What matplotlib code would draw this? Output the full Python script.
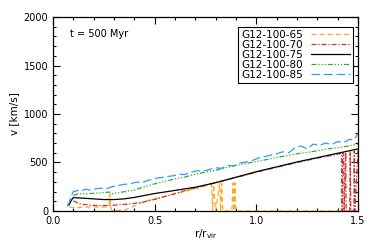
import matplotlib
matplotlib.use("Agg")
import matplotlib.pyplot as plt
from matplotlib.ticker import MultipleLocator

plt.rcParams["font.family"] = "DejaVu Sans"
plt.rcParams["font.size"] = 7

# G12-100-65 (orange, dashed)
r65 = [0.08, 0.10, 0.15, 0.20, 0.25, 0.275, 0.28, 0.285, 0.29, 0.32, 0.35, 0.38, 0.42, 0.46,
       0.50, 0.60, 0.70, 0.78, 0.785, 0.79, 0.80, 0.82, 0.825, 0.83, 0.835, 0.84, 0.86,
       0.88, 0.885, 0.89, 0.895, 0.90, 1.00, 1.20, 1.40, 1.50]
v65 = [40, 35, 38, 42, 40, 45, 175, 30, 5, 5, 8, 35, 70, 105,
       125, 175, 230, 275, 0, 275, 0, 285, 0, 285, 0, 0, 0,
       0, 290, 0, 290, 0, 0, 0, 0, 0]

# G12-100-70 (red, dash-dot)
r70 = [0.10, 0.13, 0.18, 0.23, 0.30, 0.39, 0.45, 0.51, 0.60, 0.70, 0.80, 0.90, 1.00,
       1.10, 1.20, 1.30, 1.40, 1.42, 1.422, 1.425, 1.43, 1.432, 1.44, 1.442, 1.46,
       1.462, 1.465, 1.48, 1.482, 1.485, 1.50]
v70 = [105, 75, 60, 55, 60, 75, 95, 125, 180, 240, 290, 345, 400,
       450, 500, 545, 585, 595, 0, 595, 600, 0, 605, 0, 0,
       610, 0, 0, 620, 0, 625]

# G12-100-75 (black, solid)
r75 = [0.078, 0.09, 0.10, 0.15, 0.20, 0.25, 0.30, 0.35, 0.40, 0.50, 0.60, 0.70, 0.80,
       0.90, 1.00, 1.10, 1.20, 1.30, 1.40, 1.50]
v75 = [60, 110, 138, 132, 125, 118, 118, 125, 140, 180, 212, 245, 292,
       348, 405, 455, 505, 550, 595, 640]

# G12-100-80 (green, dash-dot-dot-dot)
r80 = [0.10, 0.12, 0.16, 0.20, 0.24, 0.28, 0.29, 0.34, 0.40, 0.45, 0.50, 0.55, 0.60,
       0.65, 0.70, 0.75, 0.80, 0.85, 0.90, 0.95, 1.00, 1.05, 1.10, 1.15, 1.20, 1.25,
       1.30, 1.35, 1.40, 1.45, 1.50]
v80 = [160, 175, 178, 182, 188, 195, 178, 195, 215, 250, 280, 305, 330,
       350, 380, 400, 420, 445, 470, 490, 510, 530, 552, 570, 590, 605,
       620, 640, 652, 668, 690]

# G12-100-85 (blue, long dashes)
r85 = [0.07, 0.08, 0.09, 0.10, 0.12, 0.14, 0.16, 0.18, 0.20, 0.23, 0.26, 0.29, 0.32,
       0.35, 0.38, 0.41, 0.44, 0.47, 0.50, 0.53, 0.56, 0.59, 0.62, 0.65, 0.68, 0.71,
       0.74, 0.77, 0.80, 0.83, 0.86, 0.89, 0.92, 0.95, 0.98, 1.01, 1.04, 1.07, 1.10,
       1.13, 1.16, 1.19, 1.22, 1.25, 1.28, 1.31, 1.34, 1.37, 1.40, 1.43, 1.46, 1.48, 1.50]
v85 = [50, 90, 160, 200, 210, 205, 225, 215, 225, 235, 228, 250, 262,
       275, 280, 298, 292, 318, 335, 345, 355, 362, 380, 375, 400, 415,
       410, 428, 445, 440, 470, 465, 495, 505, 520, 545, 560, 575, 590,
       610, 600, 650, 670, 640, 690, 675, 700, 685, 715, 705, 740, 730, 800]

series = [
    ("G12-100-65", r65, v65, "#FFAA22", (0, (4, 2.5))),
    ("G12-100-70", r70, v70, "#CC3333", (0, (4, 1.5, 1, 1.5))),
    ("G12-100-75", r75, v75, "black", "-"),
    ("G12-100-80", r80, v80, "#33AA33", (0, (4, 1.5, 1, 1.5, 1, 1.5, 1, 1.5))),
    ("G12-100-85", r85, v85, "#3399FF", (0, (7, 3))),
]

fig = plt.figure(figsize=(3.74, 2.45), dpi=100)
ax = fig.add_axes([0.1417, 0.1388, 0.8153, 0.7918])

for label, r, v, color, ls in series:
    ax.plot(r, v, color=color, linestyle=ls, linewidth=0.9, label=label)

ax.set_xlim(0, 1.5)
ax.set_ylim(0, 2000)
ax.xaxis.set_major_locator(MultipleLocator(0.5))
ax.xaxis.set_minor_locator(MultipleLocator(0.1))
ax.yaxis.set_major_locator(MultipleLocator(500))
ax.yaxis.set_minor_locator(MultipleLocator(100))
ax.xaxis.set_major_formatter(plt.FuncFormatter(lambda x, p: f"{x:.1f}"))
ax.tick_params(which="both", direction="in", top=True, right=True, width=0.8)
ax.tick_params(which="major", length=5)
ax.tick_params(which="minor", length=2.5)
for s in ax.spines.values():
    s.set_linewidth(0.9)

ax.set_xlabel(r"r/r$_{\rm vir}$", fontsize=7.5, labelpad=1)
ax.set_ylabel("v [km/s]", fontsize=7.5, labelpad=8)
ax.yaxis.set_label_coords(-0.11, 0.5)
ax.text(0.055, 0.91, "t = 500 Myr", transform=ax.transAxes, fontsize=7, va="center")

leg = ax.legend(loc="upper right", bbox_to_anchor=(0.985, 0.95), fontsize=7.5,
                markerfirst=False, handlelength=3.8, fancybox=False,
                framealpha=1, edgecolor="black", borderpad=0.3,
                labelspacing=0.0, handletextpad=0.7, borderaxespad=0.0)
leg.get_frame().set_linewidth(0.8)

fig.savefig("out.png", dpi=100)
